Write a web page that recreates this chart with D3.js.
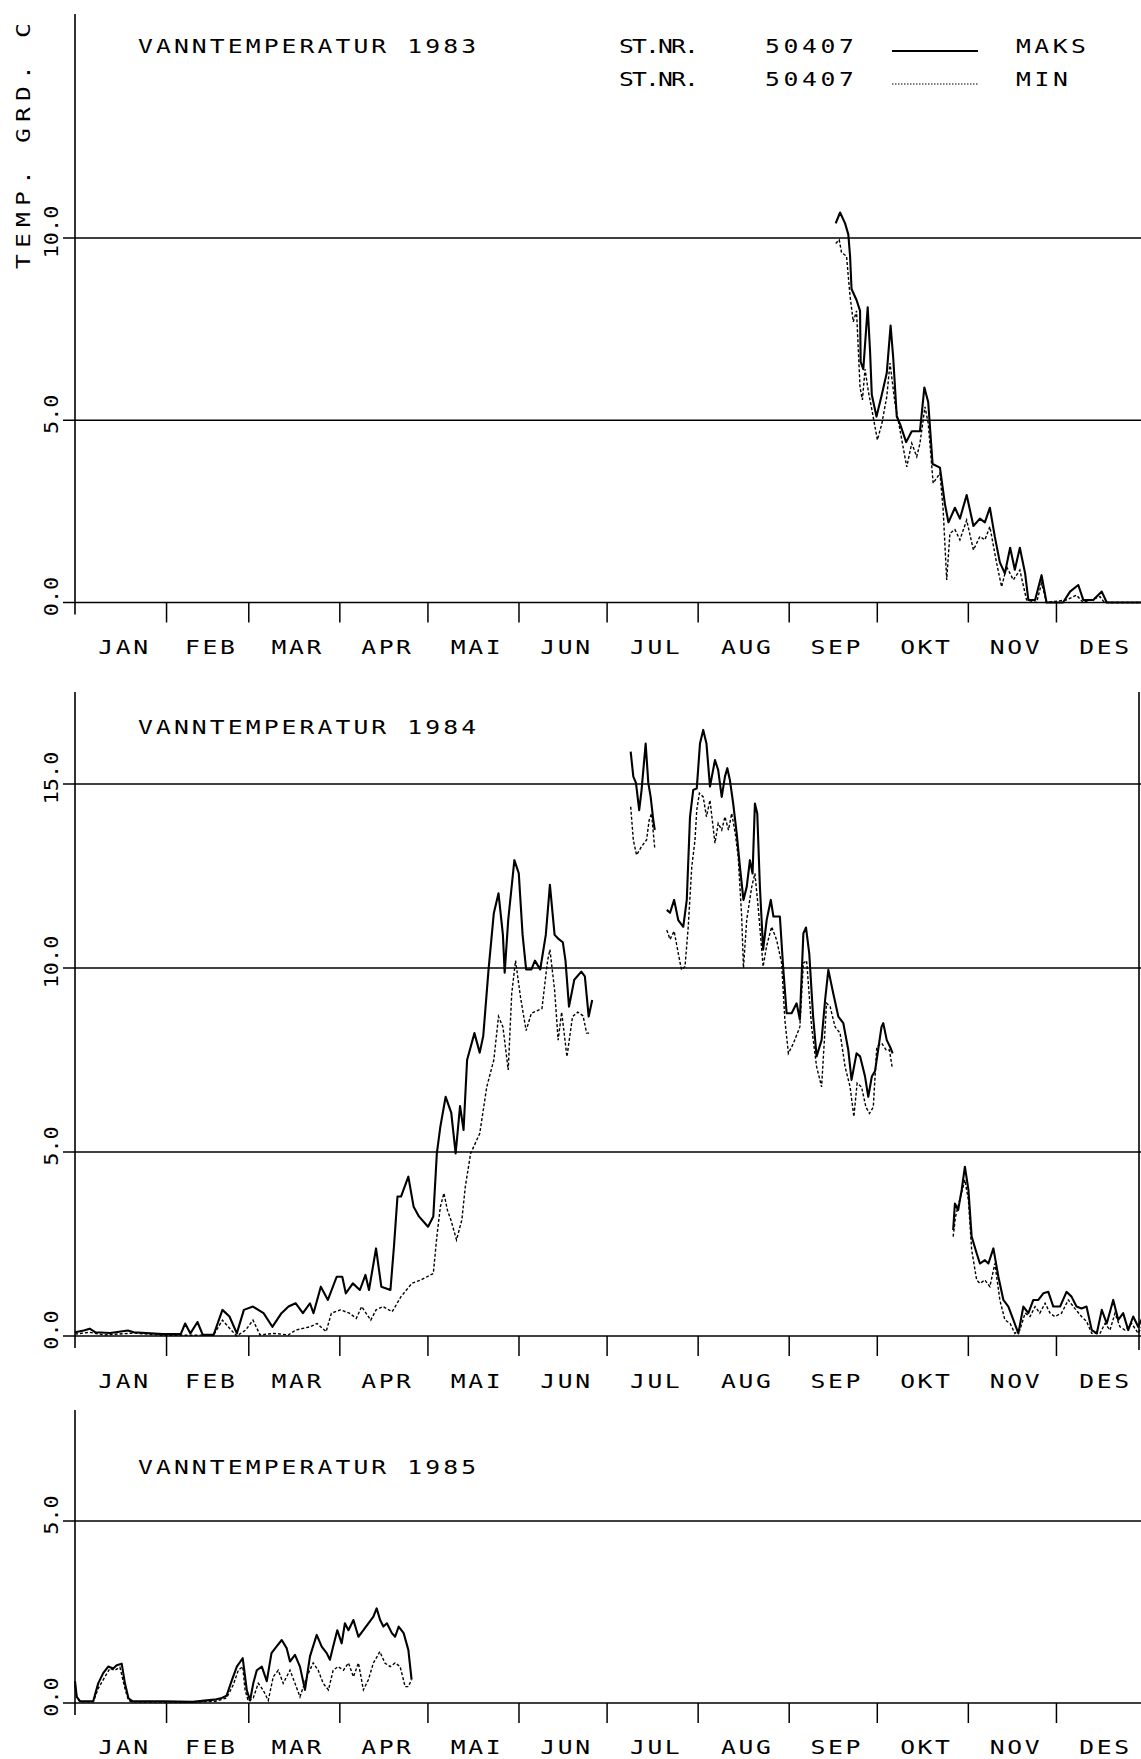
<!DOCTYPE html>
<html>
<head>
<meta charset="utf-8">
<script src="https://cdn.jsdelivr.net/npm/d3@7"></script>
<style>
  body { margin: 0; background: #fff; }
  text { font-family: "DejaVu Sans Mono", monospace; fill: #000; }
</style>
</head>
<body>
<div id="chart"></div>
<script>
// Month labels and first day (day of year) of each month.
const months = ["JAN", "FEB", "MAR", "APR", "MAI", "JUN", "JUL", "AUG", "SEP", "OKT", "NOV", "DES"];
const monthStarts = [0, 31, 59, 90, 120, 151, 181, 212, 243, 273, 304, 334, 365];

const ticks1983 = [0, 5, 10];
const ticks1984 = [0, 5, 10, 15];
const ticks1985 = [0, 5];

// [day of year, temperature]; null breaks the line.
const max1983 = [[259,10.4],[260.5,10.7],[262.2,10.4],[263.3,10.1],[263.9,9.5],[264.4,8.6],[266.1,8.3],[267.3,8.0],[267.5,6.6],[268.4,6.4],[269.9,8.1],[270.7,6.9],[271.3,5.7],[272.9,5.1],[274.7,5.7],[276.4,6.3],[277.7,7.6],[278.6,6.7],[279.8,5.1],[280.9,4.9],[283,4.4],[284.9,4.7],[287.7,4.7],[289.2,5.9],[290.5,5.5],[292,3.8],[294.5,3.7],[296.2,2.7],[297.4,2.2],[299.6,2.6],[301.3,2.3],[303.6,2.95],[305.9,2.1],[308.1,2.3],[309.8,2.2],[311.5,2.6],[313.2,1.8],[314.9,1.1],[316.6,0.8],[318.4,1.5],[320,0.9],[321.7,1.5],[323.5,0.8],[324.6,0.07],[326.9,0.07],[329.1,0.75],[330.8,0],[336.4,0],[338.8,0.3],[341.6,0.48],[343.3,0.07],[346.7,0.07],[349.6,0.3],[351.3,0],[365,0]];
const min1983 = [[259,9.85],[260.2,9.95],[261,9.6],[262.7,9.5],[263.9,8.4],[265,7.7],[266.1,8.0],[267.3,5.9],[268.1,5.56],[269,6.4],[270.1,5.8],[271.3,5.3],[273.2,4.46],[274.7,4.9],[276.4,5.65],[277.5,6.57],[279.2,5.46],[280.9,4.73],[283.2,3.72],[284.9,4.37],[286.6,4.0],[287.7,4.37],[289.4,5.37],[290.5,4.92],[292.2,3.27],[294.5,3.55],[295.6,2.54],[296.8,0.62],[297.9,1.9],[299.6,2.0],[301.3,1.72],[303.6,2.26],[305.9,1.44],[308.1,1.81],[309.8,1.72],[311.5,2.08],[313.8,1.08],[315.5,0.43],[317.2,0.98],[319.5,0.62],[321.7,0.89],[324,0.07],[327.4,0],[329.1,0.53],[330.8,0],[337.5,0.07],[341,0.2],[343.3,0],[349,0.16],[350.5,0],[365,0]];

const max1984 = [[0,0.1],[3,0.15],[5,0.2],[7,0.1],[12,0.08],[18,0.15],[20,0.1],[30,0.05],[36,0.05],[37.5,0.34],[39.3,0.07],[41.7,0.38],[43.5,0.03],[47.2,0.03],[50.2,0.71],[52.6,0.53],[55.1,0.07],[57.5,0.71],[60.6,0.8],[64.2,0.62],[67.2,0.25],[70.3,0.62],[72.7,0.8],[75.1,0.89],[77.6,0.62],[80,0.89],[81.2,0.62],[83.7,1.34],[86.1,0.98],[89.1,1.61],[91,1.61],[92.2,1.16],[94.6,1.43],[97,1.25],[98.9,1.66],[100.1,1.25],[102.5,2.38],[104.3,1.34],[107.4,1.25],[108.6,2.43],[109.8,3.79],[111,3.79],[113.5,4.33],[115.3,3.51],[117.1,3.25],[120.2,2.97],[122,3.25],[123.2,4.96],[124.4,5.69],[126.2,6.5],[128.1,6.07],[129.6,4.96],[131.1,6.25],[132.3,5.6],[133.5,7.5],[136,8.23],[137.8,7.7],[139,8.15],[140.8,9.95],[142.6,11.49],[144.2,12.03],[145.7,10.9],[146.3,9.87],[147.5,11.3],[149.6,12.93],[151.1,12.57],[152.4,10.9],[153.6,9.96],[155.4,9.96],[156.6,10.2],[158.4,9.96],[160.3,10.9],[161.7,12.26],[163.3,10.9],[164.5,10.8],[166.1,10.7],[167,10.2],[168.2,8.95],[170,9.68],[172.4,9.9],[173.6,9.77],[174.9,8.68],[176.1,9.13],
  [180,null],
  [189.2,15.88],[190.1,15.2],[191,15.03],[192.1,14.29],[192.9,14.83],[194.3,16.1],[195.2,15.03],[196,14.65],[196.9,14.02],[197.4,13.75],
  [199,null],
  [201.5,11.58],[202.6,11.5],[204,11.85],[205.4,11.3],[207.1,11.12],[208.3,11.85],[209.4,14.11],[210.5,14.84],[211.7,14.88],[212.8,16.1],[213.9,16.47],[215,16.1],[216.2,14.93],[217.9,15.65],[219,15.38],[220.2,14.65],[221.3,15.2],[222.1,15.43],[223,15.1],[224.1,14.47],[225.3,13.66],[226.4,12.75],[227.6,11.85],[228.7,12.2],[229.8,12.93],[230.7,12.57],[231.5,14.47],[232.3,14.2],[233.2,12.2],[234.3,10.5],[235.5,11.3],[236.9,11.85],[237.8,11.4],[240,11.4],[241.1,10.04],[242.3,8.77],[244,8.77],[245.7,9.04],[246.8,8.6],[248,10.94],[248.9,11.1],[250,10.4],[251.3,8.7],[252.5,7.6],[254.2,8.04],[255.4,9.13],[256.5,9.95],[258.2,9.3],[259.9,8.68],[261.6,8.5],[263.3,7.77],[264.4,6.96],[266.1,7.68],[267.3,7.6],[269,7.05],[270.1,6.5],[271.3,7.05],[272.4,7.2],[274.6,8.4],[275.2,8.5],[276.4,8.04],[277.5,7.86],[278.4,7.68],
  [290,null],
  [299,2.88],[299.6,3.6],[300.7,3.42],[301.9,3.97],[303,4.6],[304.2,3.97],[305.3,2.7],[307,2.25],[308.1,1.97],[309.8,2.06],[311,1.97],[312.7,2.38],[314.4,1.61],[316.1,0.98],[317.8,0.8],[319.5,0.44],[321.2,0.07],[322.9,0.8],[324.6,0.62],[326.3,0.98],[328,0.98],[329.7,1.16],[331.4,1.2],[333.1,0.8],[335.4,0.8],[337.6,1.2],[339.3,1.07],[341,0.8],[342.7,0.75],[344.4,0.8],[346.2,0.16],[347.9,0.07],[349.6,0.71],[351.3,0.34],[353.5,0.98],[355.2,0.44],[356.9,0.62],[358.6,0.16],[360.3,0.53],[362,0.25],[363.5,0.5]];
const min1984 = [[0,0.05],[5,0.1],[10,0.03],[20,0.08],[30,0.02],[40,0.02],[47.2,0.03],[50.2,0.43],[53.2,0.16],[55.1,0],[58.1,0.16],[60.6,0.43],[63,0.03],[67.8,0.07],[72.7,0.03],[75.1,0.16],[80,0.25],[82.4,0.34],[85.5,0.12],[87.3,0.62],[90.4,0.71],[93.4,0.62],[95.8,0.48],[97.6,0.8],[100.7,0.43],[102.5,0.71],[104.9,0.8],[108,0.66],[111,1.07],[114.7,1.43],[117.7,1.52],[122,1.7],[123.2,2.7],[124.4,3.51],[125.6,3.88],[126.8,3.42],[128,3.15],[129.9,2.61],[131.7,3.15],[132.9,4.06],[134.7,4.96],[137.8,5.5],[140.2,6.77],[142.6,7.5],[144.2,8.68],[145.7,8.4],[147.5,7.23],[148.7,9.31],[150,10.2],[151.7,9.2],[153.6,8.3],[155.4,8.77],[159,8.9],[160.9,10.2],[161.7,10.5],[163.3,9.4],[164.5,8.04],[165.7,8.8],[167.5,7.59],[169.4,8.68],[171.2,8.8],[173,8.7],[174.2,8.23],[175.5,8.23],
  [180,null],
  [189.2,14.38],[190.1,13.48],[191.2,13.07],[192.9,13.3],[194.6,13.48],[195.5,14.02],[196.3,14.2],[197.4,13.25],
  [199,null],
  [201.5,11.03],[202.6,10.78],[204,11.0],[205.4,10.4],[206.5,9.95],[207.7,10.04],[208.8,11.12],[210,12.75],[211.1,13.48],[211.7,14.29],[212.6,14.75],[213.9,14.65],[215,14.11],[216.2,14.56],[217.9,13.39],[219,13.93],[220.2,13.75],[221.3,14.11],[222.5,13.75],[223.6,14.2],[224.8,13.66],[225.8,13.02],[227,11.39],[227.6,10.0],[228.7,11.3],[230.4,12.2],[231.5,12.57],[232.6,11.66],[234.3,10.04],[235.5,10.6],[237.2,11.12],[238.9,10.76],[240.6,10.13],[241.7,8.59],[242.9,7.68],[244.6,7.95],[246.8,8.4],[248,10.13],[249.1,10.2],[250.8,8.4],[252.5,7.32],[254.2,6.77],[255.9,9.04],[257.1,8.95],[258.8,8.4],[260.5,8.23],[262.2,7.32],[263.9,6.77],[265.2,5.96],[266.3,6.87],[267.8,6.77],[269.3,6.22],[270.5,6.05],[271.8,6.22],[273,7.86],[274.7,7.95],[276.2,7.77],[277.3,7.77],[278.2,7.32],
  [290,null],
  [299,2.7],[299.8,3.24],[300.9,3.6],[303,4.24],[304.2,3.69],[305.3,2.34],[307,1.52],[308.1,1.43],[309.8,1.52],[311.5,1.34],[313.2,1.97],[314.9,0.98],[316.6,0.44],[318.4,0.34],[320,0.07],[321.7,0.16],[323.5,0.62],[325.2,0.53],[326.9,0.8],[328.5,0.62],[330.3,0.89],[332,0.62],[333.6,0.53],[335.9,0.62],[338.2,0.98],[340.4,0.75],[342.7,0.53],[344.4,0.4],[346.2,0.07],[349,0.07],[350.7,0.34],[352.4,0.16],[354.1,0.62],[355.8,0.25],[357.5,0.16],[359.8,0.34],[362,0.07],[363.5,0.3]];

const max1985 = [[0,0.6],[0.6,0.17],[1.7,0.05],[6.2,0.05],[7.9,0.54],[9.6,0.82],[11.3,1.0],[13,0.95],[14.2,1.04],[15.9,1.08],[17,0.54],[18.2,0.13],[19.5,0.05],[30,0.05],[40,0.03],[48.2,0.1],[50,0.14],[51.6,0.2],[53.3,0.6],[55.1,1.0],[57.1,1.23],[58.5,0.35],[59.6,0.07],[60.7,0.54],[61.9,0.9],[63.6,1.0],[65.3,0.6],[66.9,1.37],[68.6,1.55],[70.4,1.73],[72.1,1.5],[73.2,1.14],[74.9,1.32],[76.6,1.0],[78.3,0.36],[80,1.28],[82.3,1.87],[84,1.55],[85.7,1.37],[86.8,1.19],[87.9,1.55],[89.3,2.0],[90.8,1.64],[91.9,2.19],[93.1,2.0],[94.8,2.28],[96.5,1.82],[98.2,2.0],[99.9,2.19],[101.6,2.37],[102.7,2.6],[103.9,2.28],[105,2.1],[106.2,2.19],[107.9,1.92],[109,1.82],[110.2,2.1],[111.9,1.92],[113.5,1.46],[114.6,0.64]];
const min1985 = [[0,0.5],[0.6,0.15],[1.7,0.03],[6.2,0.03],[7.9,0.4],[10.2,0.72],[11.9,0.95],[13.6,0.9],[15.3,0.98],[17,0.4],[18.2,0.07],[19.5,0.03],[40,0.02],[48,0.05],[51.6,0.14],[53.9,0.5],[55.6,0.9],[57.1,1.0],[57.9,0.36],[59,0.05],[60.7,0.14],[62.4,0.54],[64.1,0.35],[65.8,0.07],[67.5,0.72],[69.2,0.9],[70.9,0.54],[73.2,0.9],[74.9,0.54],[76.6,0.17],[78.9,0.72],[81.1,1.1],[82.8,0.9],[84.5,0.54],[86.3,0.36],[87.9,0.9],[89.6,1.0],[91.4,0.9],[93.1,1.1],[94.8,0.72],[96.5,1.1],[98.2,0.36],[99.9,0.64],[101.6,1.1],[103.8,1.41],[105.5,1.1],[107.3,1.0],[109,1.1],[110.7,1.0],[112.4,0.45],[113.5,0.45],[114.6,0.64]];

const width = 1141;
const height = 1759;
const stretch = 1.3;   // plotter lettering is wider than the mono font

// Layout of the three stacked panels (pixel positions).
const panels = [
    { year: 1983, top: 14,   zero: 602.5, ref: 10, refY: 238,  ticks: ticks1983, max: max1983, min: min1983, titleY: 53,   monthY: 654,  border: false },
    { year: 1984, top: 692,  zero: 1336,  ref: 15, refY: 784,  ticks: ticks1984, max: max1984, min: min1984, titleY: 734,  monthY: 1388, border: true },
    { year: 1985, top: 1410, zero: 1703,  ref: 5,  refY: 1521, ticks: ticks1985, max: max1985, min: min1985, titleY: 1474, monthY: 1754, border: false }
];

const svg = d3.select("#chart").append("svg")
    .attr("width", width)
    .attr("height", height)
    .style("background", "#fff");

const x = d3.scaleLinear().domain([0, 365]).range([75, 1147]);

panels.forEach(drawPanel);
drawLegend();

/*
Wide text: placed at (px, py), stretched horizontally, fitted to len pixels.
*/
function wideText(parent, px, py, str, len) {
    return parent.append("text")
        .attr("transform", `translate(${px},${py}) scale(${stretch},1)`)
        .attr("font-size", 19)
        .attr("textLength", len / stretch)
        .attr("lengthAdjust", "spacing")
        .text(str);
}

/*
One year panel.
*/
function drawPanel(p) {
    const y = d3.scaleLinear().domain([0, p.ref]).range([p.zero, p.refY]);
    const g = svg.append("g");

    // horizontal grid lines
    g.selectAll("line.grid")
        .data(p.ticks)
        .join("line")
            .attr("class", "grid")
            .attr("x1", 63).attr("x2", width)
            .attr("y1", d => y(d)).attr("y2", d => y(d))
            .attr("stroke", "#000").attr("stroke-width", 1.6);

    // vertical axis
    g.append("line")
        .attr("x1", x(0)).attr("x2", x(0))
        .attr("y1", p.top).attr("y2", p.zero + 12)
        .attr("stroke", "#000").attr("stroke-width", 1.6);

    if (p.border) {
        g.append("line")
            .attr("x1", 1139).attr("x2", 1139)
            .attr("y1", p.top).attr("y2", p.zero + 14)
            .attr("stroke", "#000").attr("stroke-width", 1.6);
    }

    // month ticks
    g.append("g")
        .attr("transform", `translate(0,${p.zero})`)
        .call(d3.axisBottom(x).tickValues(monthStarts.slice(1, 12)).tickSize(20).tickFormat(""))
        .call(a => a.select(".domain").remove())
        .selectAll("line")
            .attr("stroke", "#000")
            .attr("stroke-width", 1.5);

    // month names
    g.selectAll("text.month")
        .data(months)
        .join("text")
            .attr("class", "month")
            .attr("transform", (d, i) =>
                `translate(${x((monthStarts[i] + monthStarts[i + 1]) / 2) + 4},${p.monthY}) scale(${stretch},1)`)
            .attr("text-anchor", "middle")
            .attr("font-size", 19)
            .attr("letter-spacing", 2)
            .text(d => d);

    // value labels, rotated
    g.selectAll("text.ylab")
        .data(p.ticks)
        .join("text")
            .attr("class", "ylab")
            .attr("transform", d => `translate(58,${y(d) - 6}) rotate(-90) scale(1.15,1)`)
            .attr("text-anchor", "middle")
            .attr("font-size", 19)
            .text(d => d.toFixed(1));

    // title
    wideText(g, 138, p.titleY, "VANNTEMPERATUR " + p.year, 338);

    const line = d3.line()
        .defined(d => d[1] !== null)
        .x(d => x(d[0]))
        .y(d => y(d[1]));

    g.append("path")
        .datum(p.min)
        .attr("fill", "none")
        .attr("stroke", "#000")
        .attr("stroke-width", 1.4)
        .attr("stroke-dasharray", "3,2")
        .attr("d", line);

    g.append("path")
        .datum(p.max)
        .attr("fill", "none")
        .attr("stroke", "#000")
        .attr("stroke-width", 2.1)
        .attr("stroke-linejoin", "round")
        .attr("d", line);
}

/*
Legend and axis title at the top.
*/
function drawLegend() {
    svg.append("text")
        .attr("transform", `translate(30,146) rotate(-90) scale(${stretch},1)`)
        .attr("text-anchor", "middle")
        .attr("font-size", 19)
        .attr("textLength", 246 / stretch)
        .attr("lengthAdjust", "spacing")
        .text("TEMP. GRD. C");

    const rows = [
        { label: "MAKS", y: 53, dash: null },
        { label: "MIN",  y: 86, dash: "1.5,1.5" }
    ];

    rows.forEach(r => {
        wideText(svg, 619, r.y, "ST.NR.", 80);
        wideText(svg, 765, r.y, "50407", 89);
        svg.append("line")
            .attr("x1", 892).attr("x2", 978)
            .attr("y1", r.y - 2).attr("y2", r.y - 2)
            .attr("stroke", "#000")
            .attr("stroke-width", r.dash ? 1.2 : 1.8)
            .attr("stroke-dasharray", r.dash);
        wideText(svg, 1016, r.y, r.label, r.label.length * 18 - 2);
    });
}
</script>
</body>
</html>
